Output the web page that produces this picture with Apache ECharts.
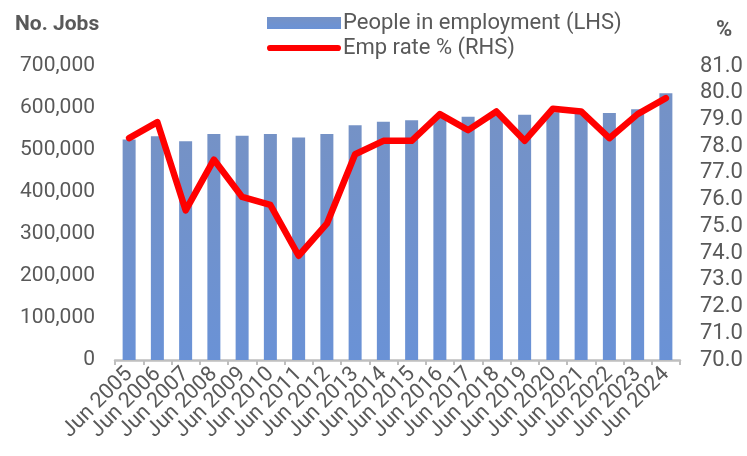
<!DOCTYPE html>
<html>
<head>
<meta charset="utf-8">
<script src="https://cdn.jsdelivr.net/npm/echarts@6/dist/echarts.min.js"></script>
<style>
  html, body { margin: 0; padding: 0; background: #ffffff; }
  #chart { width: 747px; height: 456px; }
</style>
</head>
<body>
<div id="chart"></div>
<script>
// Mid-year snapshots
const years = ['Jun 2005', 'Jun 2006', 'Jun 2007', 'Jun 2008', 'Jun 2009',
  'Jun 2010', 'Jun 2011', 'Jun 2012', 'Jun 2013', 'Jun 2014',
  'Jun 2015', 'Jun 2016', 'Jun 2017', 'Jun 2018', 'Jun 2019',
  'Jun 2020', 'Jun 2021', 'Jun 2022', 'Jun 2023', 'Jun 2024'];

// Number of people in employment (left axis)
const peopleEmployed = [525000, 533000, 521000, 538000, 534000,
  538000, 530000, 538000, 559000, 567000,
  571000, 576000, 579000, 583000, 584000,
  590000, 588000, 588000, 597000, 635000];

// Employment rate, % (right axis)
const empRate = [78.3, 78.9, 75.6, 77.5, 76.1,
  75.8, 73.9, 75.1, 77.7, 78.2,
  78.2, 79.2, 78.6, 79.3, 78.2,
  79.4, 79.3, 78.3, 79.2, 79.8];

const textGrey = '#595959';
const font = 'Roboto, "Noto Sans", sans-serif';

// Thick rounded stroke used as the legend swatch for the rate line
const thickLineIcon = 'path://M3,0 L69,0 A3,3 0 0 1 69,6 L3,6 A3,3 0 0 1 3,0 Z';

const chart = echarts.init(document.getElementById('chart'));
chart.setOption({
  animation: false,
  textStyle: { fontFamily: font, color: textGrey },
  title: [
    { text: 'No. Jobs', left: 10, top: 9,
      textStyle: { fontFamily: font, fontSize: 21, fontWeight: 'bold', color: textGrey } },
    { text: '%', left: 711, top: 14,
      textStyle: { fontFamily: font, fontSize: 22, fontWeight: 'bold', color: textGrey } }
  ],
  legend: {
    orient: 'vertical',
    left: 262,
    top: 7,
    itemWidth: 74,
    itemHeight: 12,
    itemGap: 3,
    symbolKeepAspect: true,
    textStyle: { fontFamily: font, fontSize: 22, color: textGrey, padding: [0, 0, 0, -3] },
    data: [
      { name: 'People in employment (LHS)', icon: 'rect' },
      { name: 'Emp rate % (RHS)', icon: thickLineIcon, itemStyle: { color: '#ff0000' } }
    ]
  },
  grid: { left: 115, right: 67, top: 66, bottom: 96 },
  xAxis: {
    type: 'category',
    data: years,
    boundaryGap: true,
    axisLine: { lineStyle: { color: '#bfbfbf', width: 2.5 } },
    axisTick: { show: true, length: 5, lineStyle: { color: '#bfbfbf', width: 2 } },
    axisLabel: {
      interval: 0, rotate: 45, margin: 11,
      fontFamily: font, fontSize: 21.5, color: textGrey
    }
  },
  yAxis: [
    {
      type: 'value', min: 0, max: 700000, interval: 100000,
      splitLine: { show: false },
      axisLine: { show: false },
      axisTick: { show: false },
      axisLabel: {
        margin: 20, fontFamily: font, fontSize: 21, color: textGrey,
        formatter: v => v.toLocaleString('en-US')
      }
    },
    {
      type: 'value', min: 70, max: 81, interval: 1,
      position: 'right',
      splitLine: { show: false },
      axisLine: { show: false },
      axisTick: { show: false },
      axisLabel: {
        margin: 20, fontFamily: font, fontSize: 22, color: textGrey,
        formatter: v => v.toFixed(1)
      }
    }
  ],
  series: [
    {
      name: 'People in employment (LHS)',
      type: 'bar',
      yAxisIndex: 0,
      data: peopleEmployed,
      barWidth: 13,
      itemStyle: {
        color: new echarts.graphic.LinearGradient(0, 0, 0, 1, [
          { offset: 0, color: '#7592c6' },
          { offset: 1, color: '#6a92d6' }
        ])
      }
    },
    {
      name: 'Emp rate % (RHS)',
      type: 'line',
      yAxisIndex: 1,
      data: empRate,
      symbol: 'none',
      z: 5,
      itemStyle: { color: '#ff0000' },
      lineStyle: { color: '#ff0000', width: 6.5, cap: 'round', join: 'round' }
    }
  ]
});
</script>
</body>
</html>
